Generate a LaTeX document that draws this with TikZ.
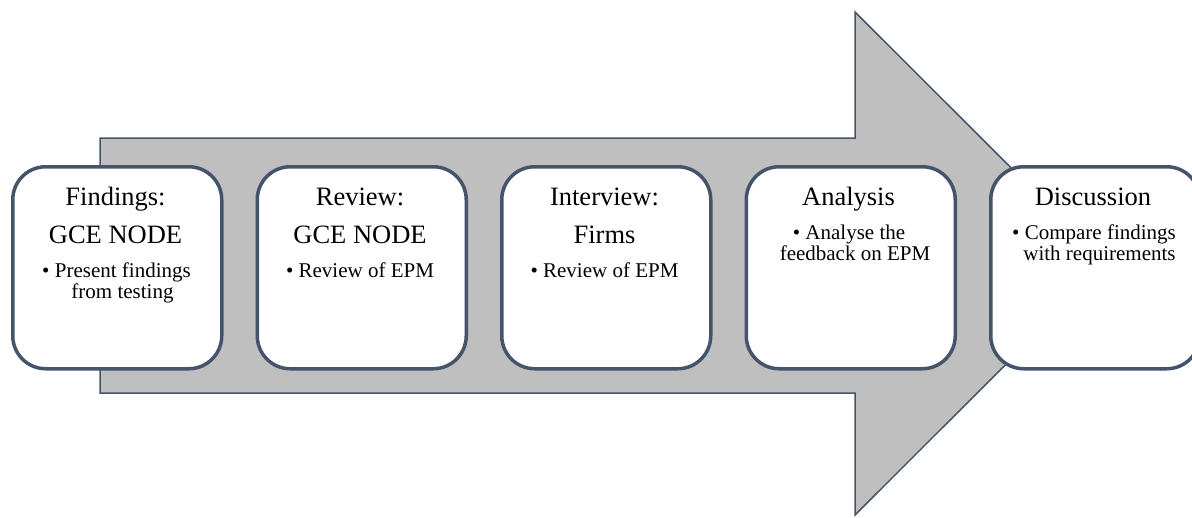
\documentclass[tikz,border=0pt]{standalone}
\usepackage{fontspec}
\setmainfont{Liberation Serif}
\definecolor{edgecol}{HTML}{44546A}
\definecolor{arrowfill}{HTML}{BFBFBF}
\begin{document}
\begin{tikzpicture}[x=1pt,y=-1pt,
  box/.style={draw=edgecol, line width=3.5pt, fill=white, rounded corners=33pt,
    minimum width=209pt, minimum height=202pt, anchor=north west, inner sep=0pt},
  title/.style={font=\fontsize{26.5}{30}\selectfont, anchor=base, inner sep=0pt},
  bul/.style={font=\fontsize{21}{21}\selectfont, anchor=base, inner sep=0pt}]
\useasboundingbox (0,0) rectangle (1192,517);
\clip (0,0) rectangle (1192,517);
% big arrow
\draw[draw=edgecol, line width=1.5pt, fill=arrowfill]
  (100,138) -- (855,138) -- (855,12) -- (1107,263.5) -- (855,515) -- (855,393) -- (100,393) -- cycle;
% boxes
\node[box] (b1) at (11,165) {};
\node[box] (b2) at (255.5,165) {};
\node[box] (b3) at (500,165) {};
\node[box] (b4) at (744.5,165) {};
\node[box] (b5) at (989,165) {};
% box 1
\node[title] (t1a) at (115.5,205) {Findings:};
\node[title] (t1b) at (115.5,243) {GCE NODE};
\node[bul] (s1a) at (116.5,277) {\textbullet\ Present findings};
\node[bul] (s1b) at (122.5,298) {from testing};
% box 2
\node[title] (t2a) at (360,205) {Review:};
\node[title] (t2b) at (360,243) {GCE NODE};
\node[bul] (s2a) at (360,277) {\textbullet\ Review of EPM};
% box 3
\node[title] (t3a) at (604.5,205) {Interview:};
\node[title] (t3b) at (604.5,243) {Firms};
\node[bul] (s3a) at (604.5,277) {\textbullet\ Review of EPM};
% box 4
\node[title] (t4a) at (848.5,205) {Analysis};
\node[bul] (s4a) at (849,239) {\textbullet\ Analyse the};
\node[bul] (s4b) at (855,260) {feedback on EPM};
% box 5
\node[title] (t5a) at (1093,205) {Discussion};
\node[bul] (s5a) at (1094,239) {\textbullet\ Compare findings};
\node[bul] (s5b) at (1099.5,260) {with requirements};
\end{tikzpicture}
\end{document}
